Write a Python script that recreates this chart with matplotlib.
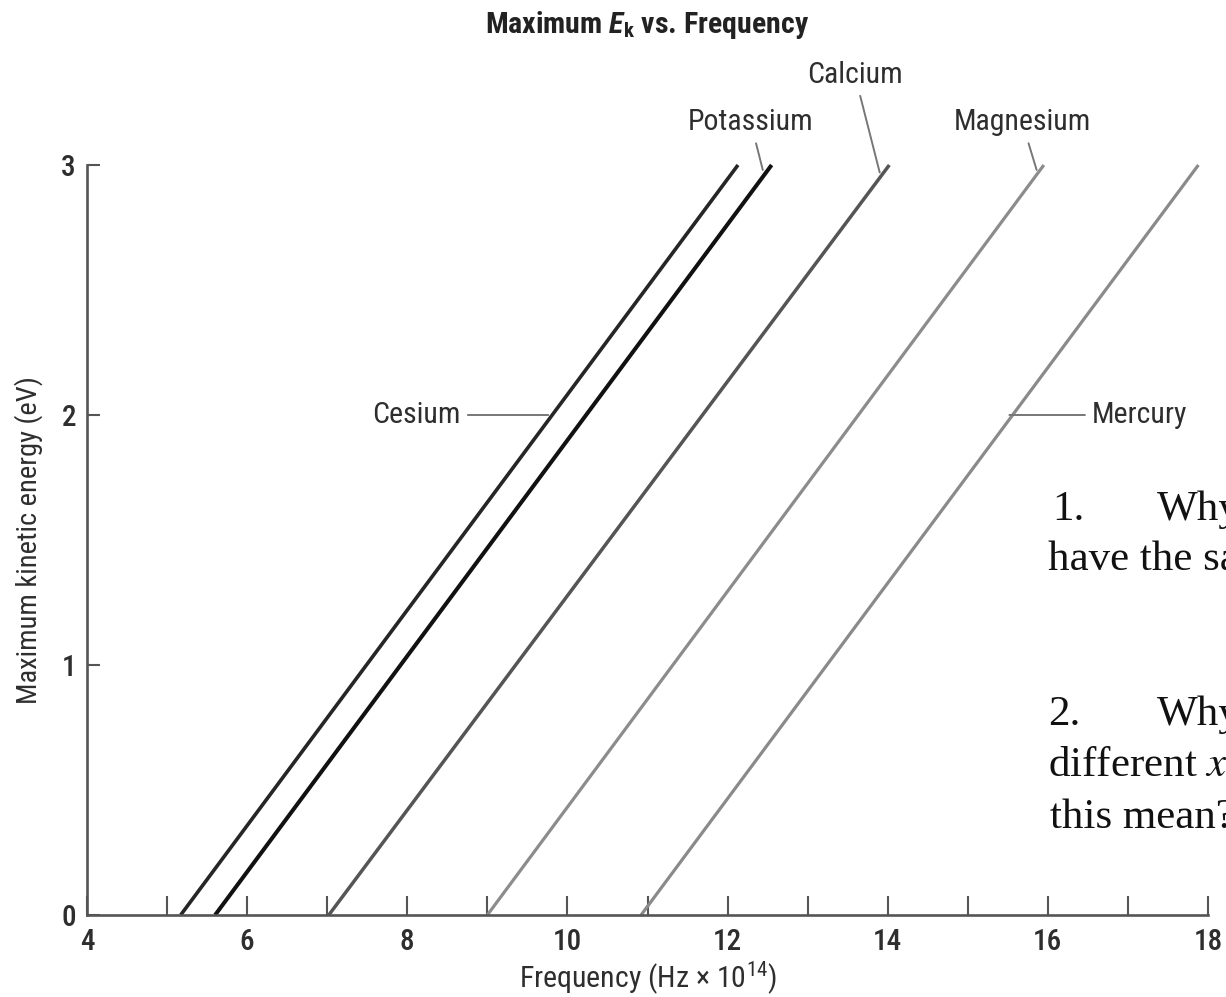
import matplotlib
matplotlib.use("Agg")
from matplotlib import pyplot as plt
from matplotlib import font_manager as fm

# frequency (x 10^14 Hz) where each line meets 0 eV and 3 eV
metals = ["Cesium", "Potassium", "Calcium", "Magnesium", "Mercury"]
threshold_freq = [5.17, 5.60, 7.02, 9.00, 10.92]
freq_at_3ev = [12.13, 12.55, 14.02, 15.95, 17.88]
energy_ends = [0, 3]

x_major = [4, 6, 8, 10, 12, 14, 16, 18]
x_minor = [5, 7, 9, 11, 13, 15, 17]
y_ticks = [0, 1, 2, 3]

line_colors = ["#262626", "#111111", "#555555", "#8c8c8c", "#8a8a8a"]
line_widths = [2.6, 2.9, 2.5, 2.3, 2.3]

W, H = 1226, 997
fonts = fm.fontManager.ttflist
names = {f.name for f in fonts}
sans = None
for cand in ["Roboto Condensed", "Liberation Sans Narrow", "Open Sans Condensed",
             "Noto Sans Condensed", "DejaVu Sans Condensed"]:
    if cand in names:
        sans = cand
        break
stretch = "normal"
if sans is None:
    narrow = [f for f in fonts if f.stretch in ("condensed", "semi-condensed")
              and f.name in ("DejaVu Sans", "Roboto", "Noto Sans", "Open Sans")]
    if narrow:
        sans = narrow[0].name
        stretch = "condensed"
    else:
        sans = "Roboto" if "Roboto" in names else "DejaVu Sans"
serif = "Liberation Serif" if "Liberation Serif" in names else "DejaVu Serif"

plt.rcParams["font.family"] = [sans, "DejaVu Sans"]
plt.rcParams["font.stretch"] = stretch
plt.rcParams["mathtext.fontset"] = "custom"
plt.rcParams["mathtext.rm"] = sans
plt.rcParams["mathtext.it"] = sans + ":italic"
plt.rcParams["mathtext.bf"] = sans + ":bold"
plt.rcParams["mathtext.bfit"] = sans + ":italic:bold"

text_color = "#2e2e2e"
axis_color = "#555555"

fig = plt.figure(figsize=(W / 100, H / 100), dpi=100)
ax = fig.add_axes([87 / W, 82 / H, 1121 / W, 750 / H])

for name, f0, f3, color, lw in zip(metals, threshold_freq, freq_at_3ev, line_colors, line_widths):
    ax.plot([f0, f3], energy_ends, color=color, lw=lw, solid_capstyle="butt", clip_on=False)

ax.set_xlim(4, 18)
ax.set_ylim(0, 3)
ax.set_xticks(x_major)
ax.set_xticks(x_minor, minor=True)
ax.set_yticks(y_ticks)

for side in ["top", "right"]:
    ax.spines[side].set_visible(False)
for side in ["left", "bottom"]:
    ax.spines[side].set_color(axis_color)
    ax.spines[side].set_linewidth(1.9)

ax.tick_params(axis="x", which="both", direction="in", length=14, width=1.5,
               color=axis_color, labelsize=21, labelcolor=text_color, pad=9)
ax.tick_params(axis="y", direction="in", length=9, width=1.5,
               color=axis_color, labelsize=21, labelcolor=text_color, pad=8)
for lab in ax.get_xticklabels() + ax.get_yticklabels():
    lab.set_fontweight("medium")

ax.set_xlabel(r"Frequency (Hz $\times$ 10$^{14}$)", fontsize=21.5, color=text_color, va="center")
ax.xaxis.set_label_coords(0.5, (915 - 978) / 750)
ax.set_ylabel("Maximum kinetic energy (eV)", fontsize=20.5, color=text_color, va="center")
ax.yaxis.set_label_coords((30 - 88) / 1121, 0.5)

fig.text(647 / W, 1 - 25 / H, r"Maximum $\mathbfit{E}_\mathbf{k}$ vs. Frequency",
         fontsize=21.5, fontweight="bold", color="#222222", ha="center", va="center")

# labels with leader lines: (text x, text y, point x, point y, ha)
leader = dict(arrowstyle="-", color="#777777", lw=1.4, shrinkA=3, shrinkB=0)
label_specs = {
    "Cesium": (8.67, 2.0, 9.76, 2.0, "right"),
    "Potassium": (12.29, 3.17, 12.44, 2.98, "center"),
    "Calcium": (13.59, 3.36, 13.90, 2.97, "center"),
    "Magnesium": (15.68, 3.17, 15.86, 2.98, "center"),
    "Mercury": (16.55, 2.0, 15.52, 2.0, "left"),
}
for name in metals:
    tx, ty, px, py, ha = label_specs[name]
    ax.annotate(name, xy=(px, py), xytext=(tx, ty), ha=ha, va="center",
                fontsize=21.5, color=text_color, arrowprops=leader, annotation_clip=False)

# question text at the right edge (cut off in the source)
q_style = dict(fontsize=31, color="#111111", family=serif, va="baseline", ha="left")
fig.text(1052 / W, 1 - 520 / H, "1.", **q_style)
fig.text(1157 / W, 1 - 520 / H, "Why", **q_style)
fig.text(1048 / W, 1 - 570 / H, "have the same", **q_style)
fig.text(1048 / W, 1 - 725 / H, "2.", **q_style)
fig.text(1157 / W, 1 - 725 / H, "Why", **q_style)
fig.text(1048 / W, 1 - 776 / H, r"different $x$", math_fontfamily="stix", **q_style)
fig.text(1050 / W, 1 - 828 / H, "this mean?", **q_style)

fig.savefig("out.png", dpi=100)
